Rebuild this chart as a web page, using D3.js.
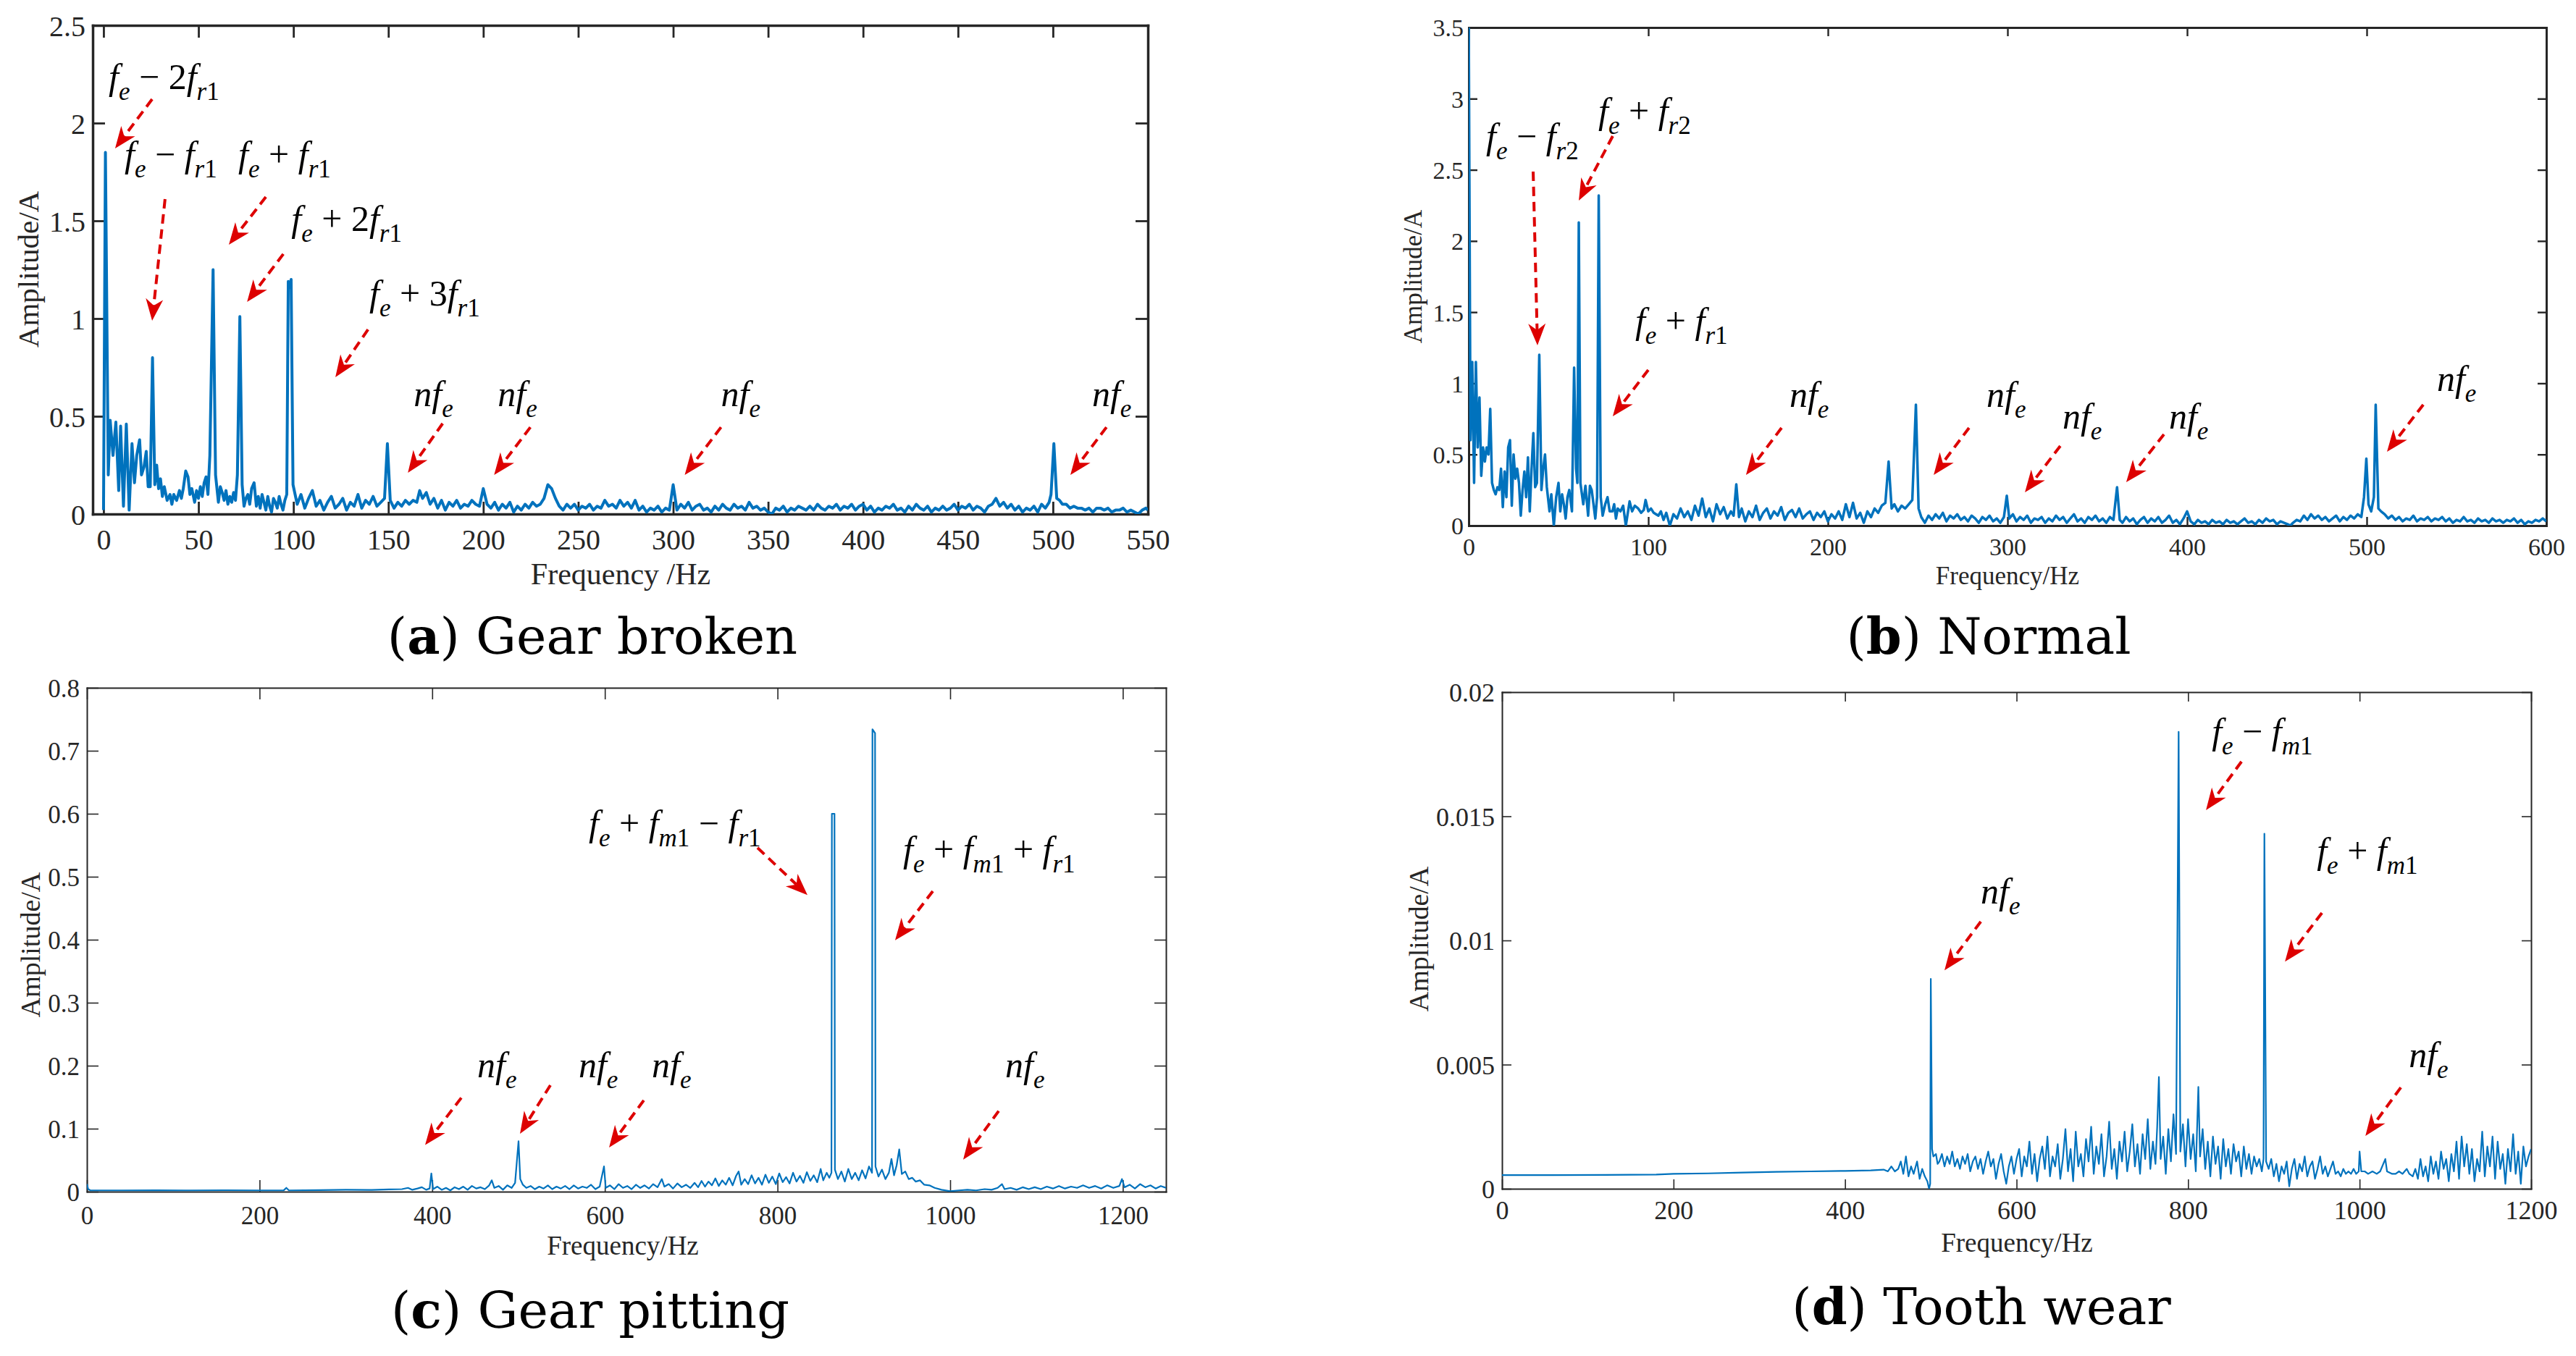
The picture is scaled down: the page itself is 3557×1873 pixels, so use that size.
<!DOCTYPE html>
<html>
<head>
<meta charset="utf-8">
<script src="https://cdn.jsdelivr.net/npm/d3@7"></script>
<style>
  body { margin: 0; background: #fff; }
  svg { display: block; background: #fff; }
  .tick text, .axis-title { font-family: "Liberation Serif", "Times New Roman", serif; fill: #262626; }
  .note { font-family: "Liberation Serif", "Times New Roman", serif; fill: #000; white-space: pre; }
  .caption { font-family: "DejaVu Serif", serif; fill: #000; white-space: pre; }
</style>
</head>
<body>
<svg id="fig" width="3557" height="1873"></svg>
<script>
// ---- spectra, [frequency Hz, amplitude A] ----
const specA = [
  [0,0.02],[1,1.85],[2.5,0.2],[3.5,0.48],[5,0.3],[6.5,0.47],[8,0.12],[9,0.45],[10.5,0.04],[12,0.46],[13.5,0.02],[15,0.36],
  [16.3,0.16],[17.5,0.3],[19,0.38],[20,0.2],[21.3,0.24],[22.5,0.32],[23.5,0.14],[24.6,0.14],[25.8,0.8],[27,0.15],[28,0.25],
  [29,0.13],[30,0.18],[31,0.09],[32,0.14],[33.5,0.07],[35,0.1],[36,0.05],[37,0.1],[38.5,0.07],[40,0.12],[41,0.08],[42,0.13],
  [43.3,0.22],[44.5,0.19],[45.5,0.1],[46.5,0.13],[48,0.06],[49,0.12],[50,0.08],[51,0.14],[52,0.09],[53,0.16],[54,0.19],[55,0.1],
  [56,0.3],[57.7,1.25],[59,0.2],[60.5,0.06],[61.5,0.14],[62.5,0.11],[63.5,0.07],[64.5,0.12],[65.5,0.05],[66.5,0.09],[67.5,0.06],
  [68.5,0.11],[69.5,0.07],[70.5,0.2],[71.8,1.01],[73,0.15],[74,0.04],[75,0.08],[76,0.1],[77,0.05],[78,0.13],[79.3,0.16],
  [80.5,0.04],[81.5,0.09],[82.5,0.03],[83.5,0.1],[84.5,0.06],[85.5,0.02],[86.5,0.09],[87.5,0.04],[88.5,0.01],[89.5,0.08],
  [90.5,0.06],[91.5,0.03],[92.5,0.09],[93.5,0.05],[94.5,0.02],[95.5,0.07],[96.5,0.1],[97.3,1.19],[98.2,1.16],[98.8,1.2],
  [99.8,0.15],[102,0.05],[104,0.1],[106,0.03],[108,0.08],[110,0.12],[112,0.04],[114,0.07],[116,0.02],[118,0.06],[120,0.09],
  [122,0.03],[124,0.05],[126,0.08],[128,0.02],[130,0.06],[132,0.04],[134,0.1],[136,0.03],[138,0.07],[140,0.05],[142,0.09],
  [144,0.04],[146,0.06],[148,0.08],[149.5,0.36],[151,0.07],[153,0.03],[155,0.06],[157,0.04],[159,0.07],[161,0.05],[163,0.07],
  [165,0.06],[166.5,0.12],[168,0.08],[170,0.11],[172,0.05],[174,0.08],[176,0.03],[178,0.07],[180,0.02],[182,0.06],[184,0.04],
  [186,0.07],[188,0.03],[190,0.05],[192,0.04],[194,0.07],[196,0.05],[198,0.04],[200,0.13],[202,0.05],[204,0.03],[206,0.06],
  [208,0.02],[210,0.05],[212,0.03],[214,0.06],[216,0.01],[218,0.04],[220,0.02],[222,0.05],[224,0.03],[226,0.06],[228,0.04],
  [230,0.05],[232,0.08],[234,0.15],[236,0.13],[238,0.08],[240,0.04],[242,0.02],[244,0.05],[246,0.03],[248,0.05],[250,0.02],
  [252,0.04],[254,0.03],[256,0.05],[258,0.02],[260,0.04],[262,0.03],[264,0.07],[266,0.04],[268,0.05],[270,0.03],[272,0.07],
  [274,0.04],[276,0.06],[278,0.03],[280,0.07],[282,0.02],[284,0.04],[286,0.01],[288,0.03],[290,0.02],[292,0.04],[294,0.01],
  [296,0.03],[298,0.02],[300,0.15],[302,0.02],[304,0.05],[306,0.03],[308,0.06],[310,0.02],[312,0.04],[314,0.05],[316,0.02],
  [318,0.03],[320,0.01],[322,0.04],[324,0.02],[326,0.05],[328,0.03],[330,0.02],[332,0.05],[334,0.03],[336,0.04],[338,0.02],
  [340,0.06],[342,0.03],[344,0.04],[346,0.02],[348,0.03],[350,0.01],[352,0],[354,0.03],[356,0.02],[358,0.04],[360,0.01],
  [362,0.03],[364,0.02],[366,0.04],[368,0.03],[370,0.02],[372,0.04],[374,0.02],[376,0.05],[378,0.03],[380,0.02],[382,0.04],
  [384,0.03],[386,0.05],[388,0.02],[390,0.04],[392,0.03],[394,0.05],[396,0.02],[398,0.04],[400,0.05],[402,0.02],[404,0.04],
  [406,0.01],[408,0.03],[410,0.02],[412,0.04],[414,0.03],[416,0.05],[418,0.02],[420,0.03],[422,0.01],[424,0.04],[426,0.02],
  [428,0.05],[430,0.03],[432,0.02],[434,0.04],[436,0.01],[438,0.03],[440,0.02],[442,0.04],[444,0.02],[446,0.03],[448,0.05],
  [450,0.02],[452,0.04],[454,0.03],[456,0.05],[458,0.02],[460,0.04],[462,0.03],[464,0.01],[466,0.04],[468,0.05],[470,0.08],
  [472,0.04],[474,0.06],[476,0.03],[478,0.05],[480,0.02],[482,0.04],[484,0.01],[486,0.03],[488,0.02],[490,0.04],[492,0.01],
  [494,0.05],[496,0.03],[498,0.06],[499,0.1],[500.5,0.36],[502,0.08],[503.5,0.07],[505,0.05],[507,0.05],[509,0.03],[511,0.04],
  [513,0.03],[515,0.03],[517,0.02],[519,0.03],[521,0.01],[523,0.03],[525,0.03],[527,0.02],[529,0.03],[531,0.01],[533,0.02],
  [535,0.02],[537,0.03],[539,0.01],[541,0.02],[543,0.01],[545,0],[547,0.02],[549,0.03],[550,0.02]
];

const specB = [
  [0,3.6],[1,0.6],[2,1.15],[3,0.3],[4,1.15],[5,0.55],[6,0.9],[7,0.35],[8,0.55],[9,0.45],[10,0.55],[11,0.5],[12,0.82],[13,0.3],
  [14,0.25],[15,0.22],[16,0.27],[17,0.25],[18,0.4],[19,0.13],[20,0.38],[21,0.2],[22,0.55],[23,0.6],[24,0.14],[25,0.5],[26,0.33],
  [27,0.4],[28,0.3],[29,0.07],[30,0.25],[31,0.38],[32,0.2],[33,0.48],[34,0.1],[35,0.4],[36,0.65],[37,0.27],[38,0.3],[39.3,1.2],
  [40.5,0.25],[41.5,0.4],[42.5,0.5],[43.5,0.27],[45,0.1],[46,0.22],[47.4,0],[48.7,0.2],[50,0.3],[51,0.1],[52,0.22],[53,0.15],
  [54,0.05],[55,0.2],[56,0.25],[57.5,0.1],[58.7,1.11],[59.8,0.4],[60.5,0.3],[61.3,2.13],[62.2,0.3],[63.8,0.15],[65,0.28],
  [66.5,0.07],[67.5,0.28],[68.5,0.25],[69.5,0.15],[70.5,0.05],[71.5,0.2],[72.4,2.32],[73.5,0.2],[74.6,0.07],[76,0.15],
  [77.3,0.2],[78.5,0.1],[80,0.1],[81,0.15],[82,0.05],[83,0.12],[84.5,0.1],[86,0.14],[87.5,0],[89.6,0.17],[91,0.1],[92.5,0.14],
  [94.4,0.12],[96,0.09],[97.5,0.11],[98.5,0.18],[100,0.1],[101.5,0.12],[103,0.09],[105.6,0.07],[107,0.1],[108.5,0.04],
  [110,0.09],[112,0],[114,0.08],[116,0.05],[118,0.12],[120,0.06],[122,0.1],[124,0.04],[126,0.14],[128,0.07],[130,0.19],
  [132,0.06],[134,0.12],[136,0.03],[138,0.15],[140,0.08],[142,0.13],[144,0.05],[146,0.1],[147.5,0.07],[149,0.29],[150.5,0.06],
  [152,0.12],[154,0.03],[156,0.1],[158,0.06],[160,0.14],[162,0.04],[164,0.09],[166,0.12],[168,0.05],[170,0.1],[172,0.07],
  [174,0.13],[176,0.04],[178,0.09],[180,0.11],[182,0.06],[184,0.12],[186,0.05],[188,0.08],[190,0.1],[192,0.04],[194,0.09],
  [196,0.06],[198,0.1],[200,0.03],[202,0.08],[204,0.05],[206,0.1],[208,0.04],[210,0.15],[212,0.06],[214,0.16],[216,0.05],
  [218,0.09],[220,0.02],[222,0.1],[224,0.06],[226,0.12],[228,0.09],[230,0.14],[232,0.16],[233.8,0.45],[235.5,0.12],[237,0.15],
  [239,0.1],[241,0.14],[243,0.12],[245,0.15],[247,0.18],[249,0.85],[250.5,0.12],[252,0.06],[254,0.02],[256,0.07],[258,0.04],
  [260,0.08],[262,0.05],[264,0.09],[266,0.03],[268,0.07],[270,0.05],[272,0.08],[274,0.04],[276,0.06],[278,0.03],[280,0.07],
  [282,0.05],[284,0.02],[286,0.06],[288,0.04],[290,0.07],[292,0.03],[294,0.05],[296,0.02],[298,0.06],[299.6,0.21],[301,0.05],
  [303,0.08],[305,0.03],[307,0.06],[309,0.04],[311,0.07],[313,0.02],[315,0.05],[317,0.04],[319,0.06],[321,0.02],[323,0.05],
  [325,0.03],[327,0.07],[329,0.04],[331,0.06],[333,0.02],[335,0.05],[337,0.08],[339,0.03],[341,0.05],[343,0.02],[345,0.06],
  [347,0.04],[349,0.07],[351,0.03],[353,0.05],[355,0.02],[357,0.06],[359,0.04],[361,0.27],[362.5,0.04],[364,0.02],[366,0.06],
  [368,0.03],[370,0.05],[372,0.01],[374,0.04],[376,0.06],[378,0.02],[380,0.05],[382,0.03],[384,0.06],[386,0.02],[388,0.04],
  [390,0.07],[392,0.02],[394,0.04],[396,0.01],[398,0.05],[400,0.1],[402,0.03],[404,0.01],[406,0.04],[408,0.02],[410,0.03],
  [412,0.01],[414,0.04],[416,0.02],[418,0.03],[420,0.01],[422,0.04],[424,0.02],[426,0.03],[428,0.01],[430,0.03],[432,0.05],
  [434,0.02],[436,0.03],[438,0.01],[440,0.04],[442,0.02],[444,0.05],[446,0.03],[448,0.04],[450,0.01],[452,0.03],[454,0.02],
  [456,0.01],[457.5,0],[459,0.02],[461,0.04],[463,0.03],[465,0.07],[467,0.04],[469,0.08],[471,0.05],[473,0.07],[475,0.04],
  [477,0.06],[479,0.03],[481,0.05],[483,0.07],[485,0.03],[487,0.06],[489,0.04],[491,0.07],[493,0.05],[495,0.08],[497,0.06],
  [498.5,0.2],[499.8,0.47],[501,0.15],[502.5,0.1],[504,0.2],[505,0.85],[506.5,0.12],[508,0.1],[510,0.08],[512,0.05],[514,0.07],
  [516,0.04],[518,0.06],[520,0.03],[522,0.05],[524,0.04],[526,0.07],[528,0.03],[530,0.05],[532,0.04],[534,0.06],[536,0.03],
  [538,0.05],[540,0.04],[542,0.06],[544,0.03],[546,0.05],[548,0.02],[550,0.04],[552,0.03],[554,0.06],[556,0.03],[558,0.04],
  [560,0.02],[562,0.05],[564,0.03],[566,0.04],[568,0.02],[570,0.05],[572,0.03],[574,0.04],[576,0.02],[578,0.04],[580,0.03],
  [582,0.05],[584,0.02],[586,0.04],[588,0.01],[590,0.03],[592,0.02],[594,0.04],[596,0.03],[598,0.05],[600,0.03]
];

const specC = [
  [0,0.012],[1.5,0.004],[4,0.002],[40,0.002],[80,0.0022],[120,0.002],[160,0.0023],[200,0.002],[228,0.0022],[231,0.006],
  [234,0.002],[270,0.0025],[300,0.003],[330,0.0028],[350,0.0035],[365,0.004],[372,0.006],[377,0.003],[383,0.005],[388,0.007],
  [393,0.003],[397,0.005],[399,0.029],[401,0.004],[406,0.008],[411,0.003],[416,0.006],[421,0.002],[426,0.007],[431,0.004],
  [436,0.008],[441,0.003],[446,0.009],[451,0.005],[456,0.007],[461,0.004],[466,0.01],[469,0.018],[472,0.006],[477,0.009],
  [482,0.003],[487,0.01],[492,0.006],[496,0.014],[500,0.08],[502,0.02],[505,0.011],[509,0.006],[514,0.009],[519,0.004],
  [524,0.008],[529,0.005],[534,0.01],[539,0.004],[544,0.008],[549,0.005],[554,0.009],[559,0.004],[564,0.01],[569,0.005],
  [574,0.008],[579,0.006],[584,0.011],[589,0.004],[594,0.008],[599,0.04],[601,0.006],[606,0.01],[611,0.004],[616,0.012],
  [621,0.006],[626,0.009],[631,0.004],[636,0.011],[641,0.006],[646,0.01],[651,0.005],[656,0.012],[661,0.007],[666,0.02],
  [669,0.008],[674,0.012],[679,0.005],[684,0.013],[689,0.007],[694,0.011],[699,0.006],[704,0.014],[708,0.007],[712,0.017],
  [716,0.008],[720,0.016],[724,0.01],[728,0.021],[732,0.009],[736,0.018],[740,0.011],[744,0.022],[748,0.01],[752,0.025],
  [755,0.032],[758,0.011],[762,0.02],[766,0.012],[770,0.026],[774,0.013],[778,0.022],[782,0.011],[786,0.027],[790,0.014],
  [794,0.024],[798,0.012],[802,0.029],[806,0.015],[810,0.023],[814,0.013],[818,0.03],[822,0.016],[826,0.025],[830,0.014],
  [834,0.031],[838,0.017],[842,0.026],[846,0.015],[850,0.036],[853,0.018],[857,0.03],[860,0.022],[862.5,0.03],[863,0.6],
  [866,0.6],[866.5,0.035],[870,0.02],[874,0.032],[878,0.016],[882,0.036],[886,0.02],[890,0.03],[894,0.018],[898,0.034],
  [902,0.021],[906,0.04],[909.5,0.03],[910,0.734],[913,0.728],[913.5,0.04],[917,0.024],[921,0.035],[925,0.02],[929,0.03],
  [932,0.052],[935,0.026],[938,0.042],[941,0.067],[944,0.028],[948,0.032],[952,0.02],[956,0.022],[960,0.016],[965,0.018],
  [970,0.011],[976,0.01],[982,0.006],[990,0.003],[1000,0.0008],[1010,0.002],[1020,0.003],[1030,0.002],[1040,0.004],
  [1048,0.003],[1055,0.006],[1060,0.012],[1063,0.004],[1070,0.006],[1077,0.003],[1084,0.007],[1091,0.004],[1098,0.007],
  [1105,0.004],[1112,0.008],[1119,0.005],[1126,0.009],[1133,0.005],[1140,0.008],[1147,0.006],[1154,0.01],[1161,0.006],
  [1168,0.009],[1175,0.005],[1182,0.01],[1189,0.006],[1196,0.009],[1199,0.02],[1202,0.007],[1208,0.011],[1214,0.005],
  [1220,0.012],[1226,0.007],[1232,0.01],[1238,0.005],[1244,0.009],[1250,0.006]
];

const specD = [
  [0,0.00055],[60,0.00055],[120,0.00056],[180,0.00057],[200,0.0006],[240,0.00062],[280,0.00065],[320,0.00068],[360,0.0007],
  [400,0.00072],[430,0.00074],[445,0.00077],[450,0.0007],[454,0.0009],[458,0.0007],[462,0.0008],[465,0.0011],[468,0.0006],
  [471,0.0013],[474,0.0005],[477,0.0009],[480,0.0006],[484,0.0011],[487,0.0004],[490,0.0008],[493,0.0005],[496,0.0003],
  [498,0],[499.3,0.0002],[500,0.00845],[501.5,0.0016],[503,0.0013],[506,0.0014],[508,0.001],[510,0.0011],[513,0.0014],
  [516,0.0009],[519,0.0013],[522,0.001],[525,0.0015],[528,0.0009],[531,0.0012],[534,0.0008],[537,0.0013],[540,0.001],
  [543,0.0014],[546,0.0007],[549,0.0011],[552,0.0013],[555,0.0008],[558,0.0012],[561,0.0006],[564,0.0011],[567,0.0015],
  [570,0.0009],[573,0.0012],[576,0.0004],[579,0.001],[582,0.0014],[585,0.0007],[588,0.0002],[591,0.0009],[594,0.0013],
  [597,0.0006],[600,0.0012],[603,0.0016],[606,0.0005],[609,0.0013],[612,0.0009],[615,0.0019],[618,0.0006],[621,0.0014],
  [624,0.0003],[627,0.0012],[630,0.0017],[633,0.0008],[636,0.0021],[639,0.0005],[642,0.0013],[645,0.0009],[648,0.0018],
  [651,0.0004],[654,0.0012],[657,0.0024],[660,0.0007],[663,0.0016],[666,0.0003],[669,0.0023],[672,0.0009],[675,0.0014],
  [678,0.0005],[681,0.002],[684,0.0011],[687,0.0025],[690,0.0006],[693,0.0017],[696,0.001],[699,0.0022],[702,0.0005],
  [705,0.0013],[708,0.0027],[711,0.0008],[714,0.0016],[717,0.0004],[720,0.0019],[723,0.0011],[726,0.0023],[729,0.0007],
  [732,0.0015],[735,0.0026],[738,0.0009],[741,0.0018],[744,0.0006],[747,0.0022],[750,0.0012],[753,0.0028],[756,0.0008],
  [759,0.0019],[762,0.001],[764,0.0025],[766,0.0045],[768,0.0012],[771,0.0021],[774,0.0006],[777,0.0024],[780,0.0011],
  [783,0.003],[786,0.0014],[789,0.0184],[791,0.0015],[794,0.0026],[797,0.0009],[800,0.0028],[803,0.0012],[806,0.0022],
  [809,0.0007],[812,0.0041],[814,0.0013],[817,0.0024],[820,0.0008],[823,0.0019],[826,0.0005],[829,0.0021],[832,0.001],
  [835,0.0017],[838,0.0004],[841,0.002],[844,0.0009],[847,0.0016],[850,0.0006],[853,0.0018],[856,0.0011],[859,0.0015],
  [862,0.0005],[865,0.0017],[868,0.0008],[871,0.0014],[874,0.0006],[877,0.0013],[880,0.0009],[883,0.0012],[886,0.0007],
  [888,0.0012],[889,0.0143],[891,0.0011],[894,0.0008],[897,0.0012],[900,0.0005],[903,0.001],[906,0.0003],[909,0.0009],
  [912,0.0006],[915,0.0011],[918,0.0001],[921,0.0008],[924,0.0012],[927,0.0004],[930,0.001],[933,0.0007],[936,0.0013],
  [939,0.0005],[942,0.0009],[945,0.0011],[948,0.0004],[951,0.0008],[954,0.0013],[957,0.0006],[960,0.0009],[963,0.0005],
  [966,0.0008],[969,0.0011],[972,0.0006],[975,0.0007],[978,0.0005],[981,0.0008],[984,0.0006],[987,0.0007],[990,0.0006],
  [993,0.0008],[996,0.0006],[999,0.0007],[1000,0.0015],[1002,0.0007],[1006,0.0007],[1010,0.0006],[1015,0.0007],
  [1020,0.0006],[1024,0.0007],[1030,0.0012],[1032,0.0007],[1038,0.0006],[1042,0.0006],[1046,0.0007],[1050,0.0006],
  [1055,0.0008],[1058,0.0006],[1062,0.0005],[1065,0.0008],[1068,0.0004],[1071,0.0012],[1074,0.0005],[1077,0.0009],
  [1080,0.0003],[1083,0.0013],[1086,0.0006],[1089,0.0011],[1092,0.0004],[1095,0.0015],[1098,0.0008],[1101,0.0012],
  [1104,0.0003],[1107,0.0014],[1110,0.0007],[1113,0.0019],[1116,0.0004],[1119,0.0021],[1122,0.0009],[1125,0.0018],
  [1128,0.0006],[1131,0.0016],[1134,0.0003],[1137,0.0012],[1140,0.0007],[1143,0.0023],[1146,0.0005],[1149,0.0017],
  [1152,0.0009],[1155,0.0021],[1158,0.0004],[1161,0.0019],[1164,0.0008],[1167,0.0014],[1170,0.0002],[1173,0.0016],
  [1176,0.0007],[1179,0.0022],[1182,0.0006],[1185,0.0015],[1188,0.0002],[1191,0.0017],[1194,0.0009],[1197,0.0013],
  [1200,0.0016]
];

// ---- tick values ----
const xTicksA = [0, 50, 100, 150, 200, 250, 300, 350, 400, 450, 500, 550];
const yTicksA = [0, 0.5, 1, 1.5, 2, 2.5];
const xTicksB = [0, 100, 200, 300, 400, 500, 600];
const yTicksB = [0, 0.5, 1, 1.5, 2, 2.5, 3, 3.5];
const xTicksC = [0, 200, 400, 600, 800, 1000, 1200];
const yTicksC = [0, 0.1, 0.2, 0.3, 0.4, 0.5, 0.6, 0.7, 0.8];
const xTicksD = [0, 200, 400, 600, 800, 1000, 1200];
const yTicksD = [0, 0.005, 0.01, 0.015, 0.02];

// ---- annotation labels: pieces of [text, kind]; i italic, r roman, si/sr subscript ----
const labels = {
  feM2fr1:    [['f','i'],['e','si'],[' − 2','r'],['f','i'],['r','si'],['1','sr']],
  feMfr1:     [['f','i'],['e','si'],[' − ','r'],['f','i'],['r','si'],['1','sr']],
  fePfr1:     [['f','i'],['e','si'],[' + ','r'],['f','i'],['r','si'],['1','sr']],
  feP2fr1:    [['f','i'],['e','si'],[' + 2','r'],['f','i'],['r','si'],['1','sr']],
  feP3fr1:    [['f','i'],['e','si'],[' + 3','r'],['f','i'],['r','si'],['1','sr']],
  feMfr2:     [['f','i'],['e','si'],[' − ','r'],['f','i'],['r','si'],['2','sr']],
  fePfr2:     [['f','i'],['e','si'],[' + ','r'],['f','i'],['r','si'],['2','sr']],
  fePfm1Mfr1: [['f','i'],['e','si'],[' + ','r'],['f','i'],['m','si'],['1','sr'],[' − ','r'],['f','i'],['r','si'],['1','sr']],
  fePfm1Pfr1: [['f','i'],['e','si'],[' + ','r'],['f','i'],['m','si'],['1','sr'],[' + ','r'],['f','i'],['r','si'],['1','sr']],
  feMfm1:     [['f','i'],['e','si'],[' − ','r'],['f','i'],['m','si'],['1','sr']],
  fePfm1:     [['f','i'],['e','si'],[' + ','r'],['f','i'],['m','si'],['1','sr']],
  nfe:        [['nf','i'],['e','si']]
};

// annotation anchors in data units: label start, arrow tail, arrow tip
const notesA = [
  {label: 'feM2fr1', at: [2.7, 2.174],  from: [25.6, 2.122], to: [6.1, 1.87]},
  {label: 'feMfr1',  at: [11.1, 1.778], from: [32.4, 1.611], to: [25.6, 0.989]},
  {label: 'fePfr1',  at: [71, 1.778],   from: [85.5, 1.622], to: [66, 1.378]},
  {label: 'feP2fr1', at: [98.9, 1.448], from: [94.7, 1.33],  to: [75.6, 1.085]},
  {label: 'feP3fr1', at: [140, 1.067],  from: [139.3, 0.944], to: [122.1, 0.7]},
  {label: 'nfe', at: [163.4, 0.552], from: [178.6, 0.463], to: [160.3, 0.211]},
  {label: 'nfe', at: [207.6, 0.552], from: [224.8, 0.444], to: [205.7, 0.2]},
  {label: 'nfe', at: [325.2, 0.552], from: [325.2, 0.444], to: [306.1, 0.2]},
  {label: 'nfe', at: [520.6, 0.552], from: [528.2, 0.444], to: [509.2, 0.2]}
];
const notesB = [
  {label: 'feMfr2', at: [9.7, 2.65],   from: [35.9, 2.488], to: [38.3, 1.267]},
  {label: 'fePfr2', at: [72.2, 2.83],  from: [80.2, 2.737], to: [61.3, 2.284]},
  {label: 'fePfr1', at: [92.7, 1.353], from: [100, 1.094],  to: [80.2, 0.768]},
  {label: 'nfe', at: [178.6, 0.834], from: [174.2, 0.687], to: [154.4, 0.356]},
  {label: 'nfe', at: [288.3, 0.834], from: [278.6, 0.687], to: [258.9, 0.356]},
  {label: 'nfe', at: [330.6, 0.682], from: [329.4, 0.56],  to: [309.7, 0.234]},
  {label: 'nfe', at: [389.9, 0.682], from: [387.1, 0.641], to: [366.1, 0.305]},
  {label: 'nfe', at: [539.1, 0.946], from: [531.5, 0.85],  to: [511.3, 0.519]}
];
const notesC = [
  {label: 'fePfm1Mfr1', at: [581.4, 0.5655], from: [776.8, 0.546], to: [834.7, 0.471]},
  {label: 'fePfm1Pfr1', at: [945.5, 0.524],  from: [979.9, 0.477], to: [936.2, 0.399]},
  {label: 'nfe', at: [452.2, 0.182],  from: [433.7, 0.149],  to: [391.8, 0.074]},
  {label: 'nfe', at: [569.6, 0.182],  from: [536.9, 0.169],  to: [501.7, 0.092]},
  {label: 'nfe', at: [654.4, 0.182],  from: [645.1, 0.145],  to: [604.9, 0.07]},
  {label: 'nfe', at: [1063.8, 0.182], from: [1056.2, 0.128], to: [1015.1, 0.051]}
];
const notesD = [
  {label: 'feMfm1', at: [827.7, 0.01793], from: [862.3, 0.0172],  to: [820.9, 0.01525]},
  {label: 'fePfm1', at: [950.2, 0.01312], from: [956.1, 0.01111], to: [913, 0.00915]},
  {label: 'nfe', at: [558.3, 0.01149],  from: [558.3, 0.01076],  to: [516, 0.0088]},
  {label: 'nfe', at: [1057.4, 0.0049],  from: [1048.1, 0.00408], to: [1006.8, 0.00213]}
];

const svg = d3.select('#fig');
const fmt = d => String(+d.toFixed(4));

class SpectrumPanel {

  constructor(_config, _data, _notes) {
    this.config = _config;
    this.data = _data;
    this.notes = _notes;
    this.initVis();
    this.renderVis();
  }

  initVis() {
    let vis = this;
    const c = vis.config;

    vis.width = c.right - c.left;
    vis.height = c.bottom - c.top;

    vis.xScale = d3.scaleLinear().domain(c.xDomain).range([0, vis.width]);
    vis.yScale = d3.scaleLinear().domain(c.yDomain).range([vis.height, 0]);

    vis.chart = svg.append('g')
        .attr('transform', `translate(${c.left},${c.top})`);

    vis.chart.append('clipPath')
        .attr('id', `clip-${c.id}`)
      .append('rect')
        .attr('width', vis.width)
        .attr('height', vis.height);

    // box with inward ticks on all four sides (matlab style)
    const sides = [
      {axis: d3.axisBottom(vis.xScale).tickValues(c.xTicks), tr: `translate(0,${vis.height})`, labels: true, kind: 'x'},
      {axis: d3.axisTop(vis.xScale).tickValues(c.xTicks), tr: null, labels: false, kind: 'x'},
      {axis: d3.axisLeft(vis.yScale).tickValues(c.yTicks), tr: null, labels: true, kind: 'y'},
      {axis: d3.axisRight(vis.yScale).tickValues(c.yTicks), tr: `translate(${vis.width},0)`, labels: false, kind: 'y'}
    ];
    sides.forEach(s => {
      const g = vis.chart.append('g')
          .attr('transform', s.tr)
          .call(s.axis.tickSizeInner(-c.tickLen).tickSizeOuter(0).tickFormat(fmt))
          .attr('font-family', null)
          .attr('font-size', null);
      g.select('.domain')
          .attr('stroke', '#262626')
          .attr('stroke-width', c.axisW)
          .attr('stroke-linecap', 'square');
      g.selectAll('.tick line')
          .attr('stroke', '#262626')
          .attr('stroke-width', c.axisW * 0.8);
      if (!s.labels) {
        g.selectAll('.tick text').remove();
      } else if (s.kind === 'x') {
        g.selectAll('.tick text')
            .attr('y', c.xLabOff).attr('dy', 0)
            .style('font-size', c.tickFont + 'px');
      } else {
        g.selectAll('.tick text')
            .attr('x', -c.yLabGap).attr('dy', '0.35em')
            .style('font-size', c.tickFont + 'px');
      }
    });

    // axis titles
    svg.append('text')
        .attr('class', 'axis-title')
        .attr('x', c.xTitlePos[0])
        .attr('y', c.xTitlePos[1])
        .attr('text-anchor', 'middle')
        .style('font-size', c.xTitleFont + 'px')
        .text(c.xTitle);

    svg.append('text')
        .attr('class', 'axis-title')
        .attr('transform', `translate(${c.yTitlePos[0]},${c.yTitlePos[1]}) rotate(-90)`)
        .attr('text-anchor', 'middle')
        .style('font-size', c.yTitleFont + 'px')
        .text('Amplitude/A');

    // caption under the panel, letter in bold
    const cap = svg.append('text')
        .attr('class', 'caption')
        .attr('x', c.captionPos[0])
        .attr('y', c.captionPos[1])
        .attr('text-anchor', 'middle')
        .style('font-size', '70px');
    cap.append('tspan').text('(');
    cap.append('tspan').attr('font-weight', 'bold').text(c.tag);
    cap.append('tspan').text(')' + c.caption);
  }

  renderVis() {
    let vis = this;
    const c = vis.config;

    const line = d3.line()
        .x(d => vis.xScale(d[0]))
        .y(d => vis.yScale(d[1]));

    vis.chart.append('path')
        .datum(vis.data)
        .attr('clip-path', `url(#clip-${c.id})`)
        .attr('fill', 'none')
        .attr('stroke', '#0072bd')
        .attr('stroke-width', c.lineW)
        .attr('stroke-linejoin', 'round')
        .attr('d', line);

    // red dashed arrows + labels
    const red = '#dd0000';
    const headL = 30, headW = 12, notch = 9;
    vis.notes.forEach(n => {
      const x1 = vis.xScale(n.from[0]), y1 = vis.yScale(n.from[1]);
      const x2 = vis.xScale(n.to[0]), y2 = vis.yScale(n.to[1]);
      const len = Math.hypot(x2 - x1, y2 - y1);
      const ux = (x2 - x1) / len, uy = (y2 - y1) / len;
      const nx = -uy, ny = ux;
      const bx = x2 - ux * headL, by = y2 - uy * headL;
      const mx = x2 - ux * (headL - notch), my = y2 - uy * (headL - notch);

      vis.chart.append('line')
          .attr('x1', x1).attr('y1', y1)
          .attr('x2', mx).attr('y2', my)
          .attr('stroke', red)
          .attr('stroke-width', 4)
          .attr('stroke-dasharray', '13,8');

      vis.chart.append('path')
          .attr('d', `M${x2},${y2}L${bx + nx * headW},${by + ny * headW}L${mx},${my}L${bx - nx * headW},${by - ny * headW}Z`)
          .attr('fill', red);

      const t = vis.chart.append('text')
          .attr('class', 'note')
          .attr('x', vis.xScale(n.at[0]))
          .attr('y', vis.yScale(n.at[1]))
          .style('font-size', c.noteFont + 'px');
      const shift = c.noteFont * 0.3;
      let down = false;
      labels[n.label].forEach(([s, kind]) => {
        const sub = kind[0] === 's';
        const ts = t.append('tspan').text(s);
        if (kind.endsWith('i')) ts.attr('font-style', 'italic');
        if (sub) ts.style('font-size', (c.noteFont * 0.7) + 'px');
        if (sub && !down) { ts.attr('dy', shift); down = true; }
        if (!sub && down) { ts.attr('dy', -shift); down = false; }
      });
    });
  }
}

new SpectrumPanel({
  id: 'a', left: 128, right: 1585, top: 35, bottom: 710,
  xDomain: [-5.7, 550], yDomain: [0, 2.5], xTicks: xTicksA, yTicks: yTicksA,
  tickLen: 17, axisW: 3.5, lineW: 4, tickFont: 40, xLabOff: 49, yLabGap: 10,
  xTitle: 'Frequency /Hz', xTitlePos: [857, 807], xTitleFont: 42,
  yTitlePos: [53, 372], yTitleFont: 41, noteFont: 50,
  tag: 'a', caption: ' Gear broken', captionPos: [818, 903]
}, specA, notesA);

new SpectrumPanel({
  id: 'b', left: 2028, right: 3516, top: 38, bottom: 726,
  xDomain: [0, 600], yDomain: [0, 3.5], xTicks: xTicksB, yTicks: yTicksB,
  tickLen: 12, axisW: 3, lineW: 3.5, tickFont: 34, xLabOff: 41, yLabGap: 7,
  xTitle: 'Frequency/Hz', xTitlePos: [2772, 807], xTitleFont: 35,
  yTitlePos: [1963, 382], yTitleFont: 35, noteFont: 50,
  tag: 'b', caption: ' Normal', captionPos: [2746, 903]
}, specB, notesB);

new SpectrumPanel({
  id: 'c', left: 120, right: 1610, top: 950, bottom: 1646,
  xDomain: [0, 1250], yDomain: [0, 0.8], xTicks: xTicksC, yTicks: yTicksC,
  tickLen: 16, axisW: 2, lineW: 2.2, tickFont: 35, xLabOff: 45, yLabGap: 10,
  xTitle: 'Frequency/Hz', xTitlePos: [860, 1733], xTitleFont: 37,
  yTitlePos: [55, 1305], yTitleFont: 38, noteFont: 50,
  tag: 'c', caption: ' Gear pitting', captionPos: [815, 1834]
}, specC, notesC);

new SpectrumPanel({
  id: 'd', left: 2074, right: 3495, top: 956, bottom: 1642,
  xDomain: [0, 1200], yDomain: [0, 0.02], xTicks: xTicksD, yTicks: yTicksD,
  tickLen: 13, axisW: 2, lineW: 2.2, tickFont: 36, xLabOff: 42, yLabGap: 10,
  xTitle: 'Frequency/Hz', xTitlePos: [2785, 1729], xTitleFont: 37,
  yTitlePos: [1972, 1297], yTitleFont: 38, noteFont: 50,
  tag: 'd', caption: ' Tooth wear', captionPos: [2736, 1829]
}, specD, notesD);
</script>
</body>
</html>
